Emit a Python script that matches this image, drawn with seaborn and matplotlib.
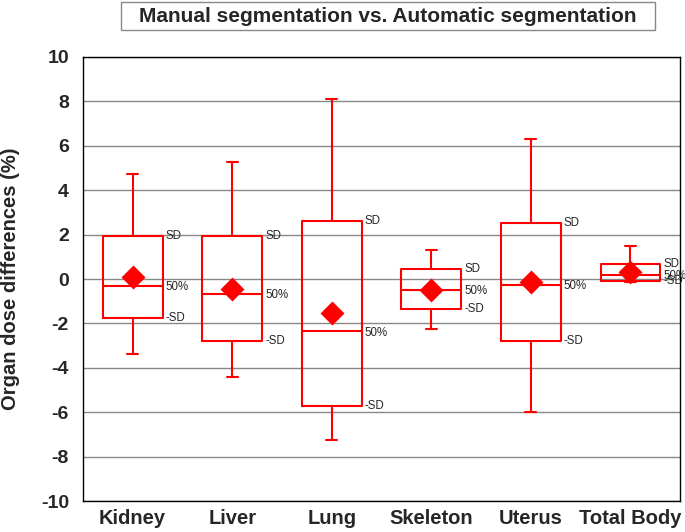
import matplotlib
matplotlib.use("Agg")
import matplotlib.pyplot as plt
from matplotlib.patches import Rectangle
import seaborn as sns
import pandas as pd
import numpy as np

# values (organ dose differences, %)
organs = ["Kidney", "Liver", "Lung", "Skeleton", "Uterus", "Total Body"]
whisk_lo = [-3.37, -4.40, -7.25, -2.23, -5.97, -0.15]
minus_sd = [-1.77, -2.80, -5.70, -1.35, -2.78, -0.10]
median   = [-0.30, -0.66, -2.35, -0.48, -0.27, 0.20]
plus_sd  = [1.95, 1.92, 2.63, 0.45, 2.53, 0.69]
whisk_hi = [4.75, 5.28, 8.10, 1.32, 6.32, 1.50]
means    = [0.09, -0.44, -1.53, -0.48, -0.12, 0.32]

# five points per organ -> quartiles land exactly on the SD / median levels
rows = []
for i, org in enumerate(organs):
    for v in [whisk_lo[i], minus_sd[i], median[i], plus_sd[i], whisk_hi[i]]:
        rows.append({"organ": org, "diff": v})
df = pd.DataFrame(rows)
df_mean = pd.DataFrame({"organ": organs, "mean": means})

sns.set_style("white")
plt.rcParams["font.family"] = ["Liberation Sans", "DejaVu Sans"]
plt.rcParams["axes.unicode_minus"] = False

fig = plt.figure(figsize=(6.85, 5.32), dpi=100)
ax = fig.add_axes([0.121, 0.058, 0.872, 0.835])

red = "#ff0000"
sns.boxplot(data=df, x="organ", y="diff", order=organs, whis=(0, 100),
            width=0.6, fill=False, color=red, linewidth=1.5,
            medianprops={"color": red, "linewidth": 1.5},
            ax=ax, zorder=3)

# narrow caps like the original
for c in ax.containers:
    for cap in getattr(c, "caps", []):
        xd = np.asarray(cap.get_xdata(), dtype=float)
        mid = xd.mean()
        cap.set_xdata([mid - 0.055, mid + 0.055])

sns.pointplot(data=df_mean, x="organ", y="mean", order=organs, errorbar=None,
              marker="D", markersize=10.5, linestyle="none", color=red,
              ax=ax, zorder=4)

for i in range(len(organs)):
    xt = i + 0.3 + 0.03
    ax.text(xt, plus_sd[i], "SD", fontsize=8.3, va="center", ha="left")
    ax.text(xt, median[i] - 0.06, "50%", fontsize=8.3, va="center", ha="left")
    ax.text(xt, minus_sd[i], "-SD", fontsize=8.3, va="center", ha="left")

ax.set_xlim(-0.5, 5.5)
ax.set_ylim(-10, 10)
ax.set_yticks(np.arange(-10, 11, 2))
ax.yaxis.grid(True, color="#888888", linewidth=1)
ax.set_axisbelow(True)
for s in ax.spines.values():
    s.set_visible(True)
    s.set_color("black")
    s.set_linewidth(1)

ax.tick_params(axis="both", direction="in", length=5, width=1, color="black")
ax.tick_params(axis="y", pad=10, labelsize=14)
ax.tick_params(axis="x", pad=6, labelsize=14.5)
for lab in ax.get_xticklabels() + ax.get_yticklabels():
    lab.set_fontweight("bold")

ax.set_xlabel("")
ax.set_ylabel("Organ dose differences (%)", fontsize=14.5, fontweight="bold")
ax.yaxis.set_label_coords(-0.105, 0.5)

fig.patches.append(Rectangle((121 / 685, 1 - 30 / 532), 534 / 685, 28 / 532,
                             transform=fig.transFigure, fill=False,
                             edgecolor="#888888", linewidth=1))
fig.text(388 / 685, 1 - 16 / 532, "Manual segmentation vs. Automatic segmentation",
         ha="center", va="center", fontsize=15, fontweight="bold")

fig.savefig("out.png", dpi=100)
